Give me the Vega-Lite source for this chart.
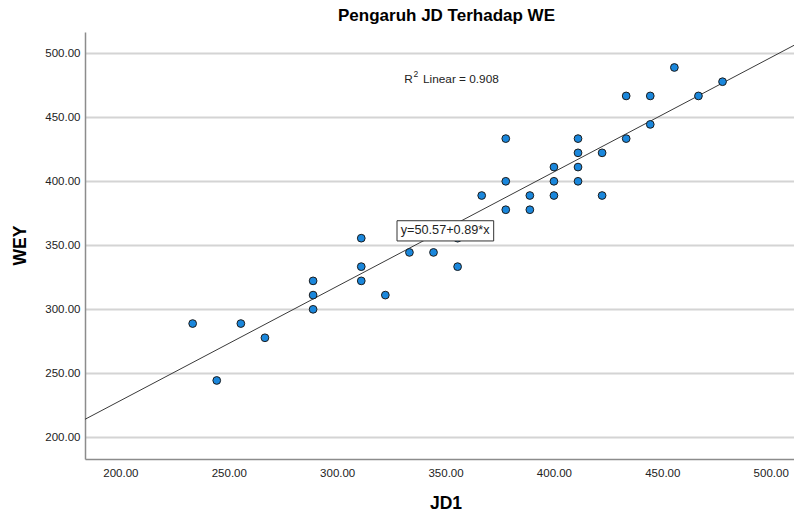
{
  "$schema": "https://vega.github.io/schema/vega-lite/v6.json",
  "width": 709,
  "height": 427,
  "autosize": {"type": "none"},
  "padding": {"left": 85, "top": 32, "right": 0, "bottom": 53},
  "background": "white",
  "config": {
    "view": {"stroke": null},
    "font": "Liberation Sans",
    "axis": {"labelFont": "Liberation Sans", "titleFont": "Liberation Sans"}
  },
  "title": {
    "text": "Pengaruh JD Terhadap WE",
    "fontSize": 17,
    "fontWeight": "bold",
    "font": "Liberation Sans",
    "color": "#000000",
    "anchor": "middle",
    "dx": 7,
    "offset": 7
  },
  "datasets": {
    "points": [
      {"JD1": 455.56, "WEY": 488.89},
      {"JD1": 477.78, "WEY": 477.78},
      {"JD1": 433.33, "WEY": 466.67},
      {"JD1": 444.44, "WEY": 466.67},
      {"JD1": 466.67, "WEY": 466.67},
      {"JD1": 444.44, "WEY": 444.44},
      {"JD1": 377.78, "WEY": 433.33},
      {"JD1": 411.11, "WEY": 433.33},
      {"JD1": 433.33, "WEY": 433.33},
      {"JD1": 411.11, "WEY": 422.22},
      {"JD1": 422.22, "WEY": 422.22},
      {"JD1": 400.0, "WEY": 411.11},
      {"JD1": 411.11, "WEY": 411.11},
      {"JD1": 377.78, "WEY": 400.0},
      {"JD1": 400.0, "WEY": 400.0},
      {"JD1": 411.11, "WEY": 400.0},
      {"JD1": 366.67, "WEY": 388.89},
      {"JD1": 388.89, "WEY": 388.89},
      {"JD1": 400.0, "WEY": 388.89},
      {"JD1": 422.22, "WEY": 388.89},
      {"JD1": 377.78, "WEY": 377.78},
      {"JD1": 388.89, "WEY": 377.78},
      {"JD1": 333.33, "WEY": 344.44},
      {"JD1": 344.44, "WEY": 344.44},
      {"JD1": 355.56, "WEY": 333.33},
      {"JD1": 311.11, "WEY": 355.56},
      {"JD1": 355.56, "WEY": 355.56},
      {"JD1": 233.33, "WEY": 288.89},
      {"JD1": 244.44, "WEY": 244.44},
      {"JD1": 255.56, "WEY": 288.89},
      {"JD1": 266.67, "WEY": 277.78},
      {"JD1": 288.89, "WEY": 322.22},
      {"JD1": 288.89, "WEY": 311.11},
      {"JD1": 288.89, "WEY": 300.0},
      {"JD1": 311.11, "WEY": 333.33},
      {"JD1": 311.11, "WEY": 322.22},
      {"JD1": 322.22, "WEY": 311.11}
    ],
    "fit": [
      {"JD1": 183.66, "WEY": 214.1},
      {"JD1": 510.75, "WEY": 506.2}
    ],
    "r2main": [
      {"JD1": 331.0, "WEY": 477.0, "label": "R"},
      {"JD1": 339.6, "WEY": 477.0, "label": "Linear = 0.908"}
    ],
    "r2sup": [
      {"JD1": 335.2, "WEY": 481.2, "label": "2"}
    ],
    "eqbox": [
      {"x1": 327.6, "x2": 372.2, "y1": 353.4, "y2": 369.2}
    ],
    "eq": [
      {"JD1": 329.3, "WEY": 361.6, "label": "y=50.57+0.89*x"}
    ]
  },
  "layer": [
    {
      "data": {"name": "fit"},
      "mark": {"type": "line", "color": "#3a3a3a", "strokeWidth": 1, "clip": true},
      "encoding": {
        "x": {
          "field": "JD1", "type": "quantitative",
          "scale": {"domain": [183.66, 510.75], "nice": false, "zero": false},
          "axis": {
            "title": "JD1",
            "titleFontSize": 17.5, "titleFontWeight": "bold", "titleColor": "#000000",
            "titleX": 360.5, "titleY": 44, "titleBaseline": "middle", "titleAlign": "center",
            "values": [200, 250, 300, 350, 400, 450, 500],
            "format": ".2f",
            "labelFontSize": 11.5, "labelColor": "#222222", "labelPadding": 8,
            "ticks": false, "grid": false,
            "domainColor": "#8c8c8c", "domainWidth": 1.5
          }
        },
        "y": {
          "field": "WEY", "type": "quantitative",
          "scale": {"domain": [183.1, 516.6], "nice": false, "zero": false},
          "axis": {
            "title": "WEY",
            "titleFontSize": 17.5, "titleFontWeight": "bold", "titleColor": "#000000",
            "titleX": -65, "titleY": 213, "titleBaseline": "middle", "titleAlign": "center", "titleAngle": -90,
            "values": [200, 250, 300, 350, 400, 450, 500],
            "format": ".2f",
            "labelFontSize": 11.5, "labelColor": "#222222", "labelPadding": 5,
            "ticks": false, "grid": true, "gridColor": "#d4d4d4", "gridWidth": 2,
            "domainColor": "#8c8c8c", "domainWidth": 1.5
          }
        }
      }
    },
    {
      "data": {"name": "points"},
      "mark": {"type": "point", "shape": "circle", "filled": true, "fill": "#1a87dc", "stroke": "#1c1c1c", "strokeWidth": 1, "size": 60, "opacity": 1},
      "encoding": {
        "x": {"field": "JD1", "type": "quantitative"},
        "y": {"field": "WEY", "type": "quantitative"}
      }
    },
    {
      "data": {"name": "r2main"},
      "mark": {"type": "text", "align": "left", "baseline": "alphabetic", "fontSize": 11.8, "color": "#222222", "font": "Liberation Sans"},
      "encoding": {
        "x": {"field": "JD1", "type": "quantitative"},
        "y": {"field": "WEY", "type": "quantitative"},
        "text": {"field": "label"}
      }
    },
    {
      "data": {"name": "r2sup"},
      "mark": {"type": "text", "align": "left", "baseline": "alphabetic", "fontSize": 8.5, "color": "#222222", "font": "Liberation Sans"},
      "encoding": {
        "x": {"field": "JD1", "type": "quantitative"},
        "y": {"field": "WEY", "type": "quantitative"},
        "text": {"field": "label"}
      }
    },
    {
      "data": {"name": "eqbox"},
      "mark": {"type": "rect", "fill": "white", "stroke": "#333333", "strokeWidth": 1},
      "encoding": {
        "x": {"field": "x1", "type": "quantitative"},
        "x2": {"field": "x2"},
        "y": {"field": "y1", "type": "quantitative"},
        "y2": {"field": "y2"}
      }
    },
    {
      "data": {"name": "eq"},
      "mark": {"type": "text", "align": "left", "baseline": "middle", "fontSize": 12.7, "color": "#222222", "font": "Liberation Sans"},
      "encoding": {
        "x": {"field": "JD1", "type": "quantitative"},
        "y": {"field": "WEY", "type": "quantitative"},
        "text": {"field": "label"}
      }
    }
  ]
}
